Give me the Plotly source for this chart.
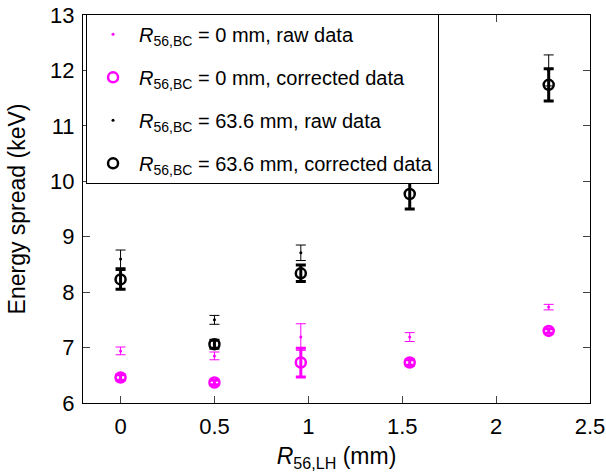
import plotly.graph_objects as go

x_vals = [0, 0.5, 0.96, 1.54, 2.28]

raw0_y = [6.94, 6.85, 7.19, 7.19, 7.73]
raw0_err = [0.07, 0.07, 0.24, 0.08, 0.05]
cor0_y = [6.46, 6.37, 6.73, 6.73, 7.30]
cor0_err = [0.05, 0.04, 0.26, 0.05, 0.04]

raw64_y = [8.60, 7.50, 8.71, 10.15, 12.00]
raw64_err = [0.16, 0.08, 0.14, 0.15, 0.28]
cor64_y = [8.23, 7.06, 8.34, 9.77, 11.74]
cor64_err = [0.18, 0.07, 0.15, 0.27, 0.29]

names = [
    "<i>R</i><sub>56,BC</sub> = 0 mm, raw data",
    "<i>R</i><sub>56,BC</sub> = 0 mm, corrected data",
    "<i>R</i><sub>56,BC</sub> = 63.6 mm, raw data",
    "<i>R</i><sub>56,BC</sub> = 63.6 mm, corrected data",
]

MAG = "#FF00FF"
BLK = "#000000"
FONT = "Liberation Sans, Arial, Helvetica, sans-serif"

fig = go.Figure()

def raw_trace(y, err, color, name, grp):
    return go.Scatter(
        x=x_vals, y=y, mode="markers", name=name, legendgroup=grp,
        marker=dict(symbol="circle", size=3, color=color),
        error_y=dict(type="data", array=err, visible=True, color=color,
                     thickness=1, width=5),
    )

def cor_trace(y, err, color, name, grp):
    return go.Scatter(
        x=x_vals, y=y, mode="markers", name=name, legendgroup=grp,
        marker=dict(symbol="circle-open", size=10, color=color,
                    line=dict(width=2.5, color=color)),
        error_y=dict(type="data", array=err, visible=True, color=color,
                     thickness=3, width=5),
    )

fig.add_trace(raw_trace(raw0_y, raw0_err, MAG, names[0], "a"))
fig.add_trace(cor_trace(cor0_y, cor0_err, MAG, names[1], "b"))
fig.add_trace(raw_trace(raw64_y, raw64_err, BLK, names[2], "c"))
fig.add_trace(cor_trace(cor64_y, cor64_err, BLK, names[3], "d"))

axis_common = dict(
    showline=True, linecolor="black", linewidth=1, mirror="ticks",
    ticks="inside", ticklen=7, tickcolor="#444", tickwidth=1,
    showgrid=False, zeroline=False, automargin=False,
    tickfont=dict(family=FONT, size=22, color="black"),
)

fig.update_layout(
    width=606, height=472,
    margin=dict(l=83, r=16, t=15, b=69, autoexpand=False),
    paper_bgcolor="white", plot_bgcolor="white",
    font=dict(family=FONT, color="black"),
    showlegend=True,
    legend=dict(
        x=0.006, y=1.003, xanchor="left", yanchor="top",
        bgcolor="white", bordercolor="black", borderwidth=1,
        font=dict(family=FONT, size=20, color="black"),
        itemwidth=42, tracegroupgap=14,
    ),
    xaxis=dict(range=[-0.2, 2.5], dtick=0.5, tick0=0,
               ticklabelstandoff=4,
               title=dict(text="<i>R</i><sub>56,LH</sub> (mm)",
                          font=dict(family=FONT, size=23), standoff=10),
               **axis_common),
    yaxis=dict(range=[6, 13], dtick=1, tick0=6,
               ticklabelstandoff=3,
               title=dict(text="Energy spread (keV)",
                          font=dict(family=FONT, size=23), standoff=18),
               **axis_common),
)

fig.write_html("out.html")
